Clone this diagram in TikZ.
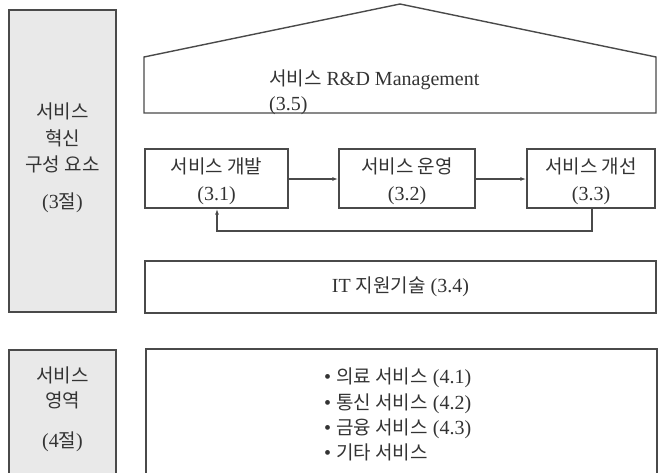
\documentclass[tikz,border=0pt]{standalone}
\usepackage{fontspec}
\setmainfont{Liberation Serif}
\newfontfamily\kr[Scale=0.95]{Noto Sans CJK KR}
\newcommand{\K}[1]{{\kr #1}}
\usetikzlibrary{arrows.meta}
\definecolor{ln}{HTML}{4A4A4A}
\definecolor{tx}{HTML}{333333}
\definecolor{gfill}{HTML}{E9E9E9}
\begin{document}
\begin{tikzpicture}[x=1pt,y=-1pt,
  box/.style={draw=ln,line width=1.4pt},
  lbl/.style={text=tx,font=\fontsize{20}{27}\selectfont,align=center,inner sep=0pt},
  arr/.style={draw=ln,line width=1.3pt,-{Latex[length=6pt,width=4pt]}}]
\useasboundingbox (0,0) rectangle (668,472);
% left gray boxes
\draw[box,fill=gfill] (9,10) rectangle (116,312);
\node[lbl,font=\fontsize{20}{26.5}\selectfont] (t3) at (62.5,158) {\K{서비스}\\\K{혁신}\\\K{구성 요소}\\[10pt](3\K{절})};
\draw[box,fill=gfill] (9,350) rectangle (116,480);
\node[lbl,font=\fontsize{20}{25}\selectfont] (t4) at (62.5,409) {\K{서비스}\\\K{영역}\\[15pt](4\K{절})};
% house
\draw[box] (144,113) -- (144,57) -- (400,4) -- (656,57) -- (656,113) -- cycle;
\node[lbl,anchor=base west] (rd1) at (269,85) {\K{서비스} R\&D Management};
\node[lbl,anchor=base west] (rd2) at (269,110) {(3.5)};
% process boxes
\node[box,minimum width=143pt,minimum height=59pt,inner sep=0pt] (b1) at (216.5,178.5) {};
\node[box,minimum width=136pt,minimum height=59pt,inner sep=0pt] (b2) at (407,178.5) {};
\node[box,minimum width=128pt,minimum height=59pt,inner sep=0pt] (b3) at (591,178.5) {};
\node[lbl] at ([yshift=-3pt]b1.center) {\K{서비스 개발}\\(3.1)};
\node[lbl] at ([yshift=-3pt]b2.center) {\K{서비스 운영}\\(3.2)};
\node[lbl] at ([yshift=-3pt]b3.center) {\K{서비스 개선}\\(3.3)};
\draw[arr] (b1.east |- 0,179) -- (b2.west |- 0,179);
\draw[arr] (b2.east |- 0,179) -- (b3.west |- 0,179);
\coordinate (c1) at (592,231);
\coordinate (c2) at (217,231);
\draw[arr] (b3.south -| c1) -- (c1) -- (c2) -- (b1.south -| c2);
% IT box
\node[box,minimum width=511pt,minimum height=52pt,inner sep=0pt] (it) at (400.5,287) {};
\node[lbl] at (it) {IT \K{지원기술} (3.4)};
% service areas
\draw[box] (146,349) rectangle (657,480);
\node[lbl,anchor=base west] (a1) at (324,383) {\textbullet\ \K{의료 서비스} (4.1)};
\node[lbl,anchor=base west] (a2) at (324,409) {\textbullet\ \K{통신 서비스} (4.2)};
\node[lbl,anchor=base west] (a3) at (324,434) {\textbullet\ \K{금융 서비스} (4.3)};
\node[lbl,anchor=base west] (a4) at (324,459) {\textbullet\ \K{기타 서비스}};
\end{tikzpicture}
\end{document}
